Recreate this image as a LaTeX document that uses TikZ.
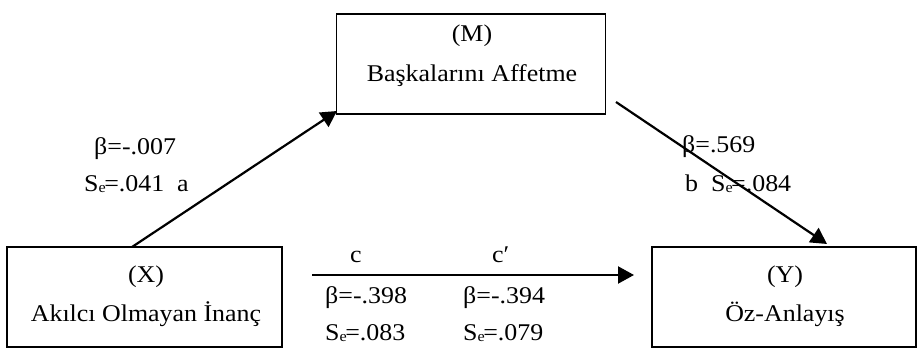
\documentclass[tikz,border=0pt]{standalone}
\usepackage{fontspec}
\setmainfont[FakeStretch=1.08]{Liberation Serif}
\usetikzlibrary{arrows.meta}
% standard error symbol: S with a small lowered e
\newcommand{\se}{S\raisebox{-1pt}{\fontsize{15}{15}\selectfont e}\kern-1.5pt}
\begin{document}
\begin{tikzpicture}[x=1pt,y=-1pt,
  varbox/.style={draw,line width=1.5pt,minimum width=#1,minimum height=100pt,inner sep=0pt},
  path/.style={line width=2.2pt,-{Triangle[length=16pt,width=17pt]}},
  lbl/.style={font=\fontsize{24}{24}\selectfont,inner sep=0pt,anchor=base west},
  boxtext/.style={font=\fontsize{24}{24}\selectfont,inner sep=0pt,anchor=base}]
\useasboundingbox (0,0) rectangle (922,350);
% variable boxes
\node[varbox=269pt] (M) at (471,64) {};
\node[varbox=275pt] (X) at (144.5,297) {};
\node[varbox=264pt] (Y) at (784,297) {};
% box captions
\node[boxtext] (m1) at (472,42) {(M)};
\node[boxtext] (m2) at (472,82) {Başkalarını Affetme};
\node[boxtext] (x1) at (146,283) {(X)};
\node[boxtext] (x2) at (146,321) {Akılcı Olmayan İnanç};
\node[boxtext] (y1) at (785,283) {(Y)};
\node[boxtext] (y2) at (785,321) {Öz-Anlayış};
% paths
\coordinate (a0) at (132,247);
\coordinate (a1) at (337,111);
\coordinate (b0) at (616,102);
\coordinate (b1) at (827,244);
\coordinate (c0) at (312,275);
\coordinate (c1) at (634,275);
\draw[path] (a0) -- (a1);
\draw[path] (b0) -- (b1);
\draw[path] (c0) -- (c1);
% coefficients
\node[lbl] (la1) at (94,155) {β=-.007};
\node[lbl] (la2) at (84,192) {\se=.041\ \ a};
\node[lbl] (lb1) at (682,153) {β=.569};
\node[lbl] (lb2) at (685,192) {b\ \ \se=.084};
\node[lbl] (lc) at (350,262) {c};
\node[lbl] (lcp) at (492,262) {c′};
\node[lbl] (lc1) at (325,303) {β=-.398};
\node[lbl] (lc2) at (463,303) {β=-.394};
\node[lbl] (lc3) at (325,340) {\se=.083};
\node[lbl] (lc4) at (463,340) {\se=.079};
\end{tikzpicture}
\end{document}
